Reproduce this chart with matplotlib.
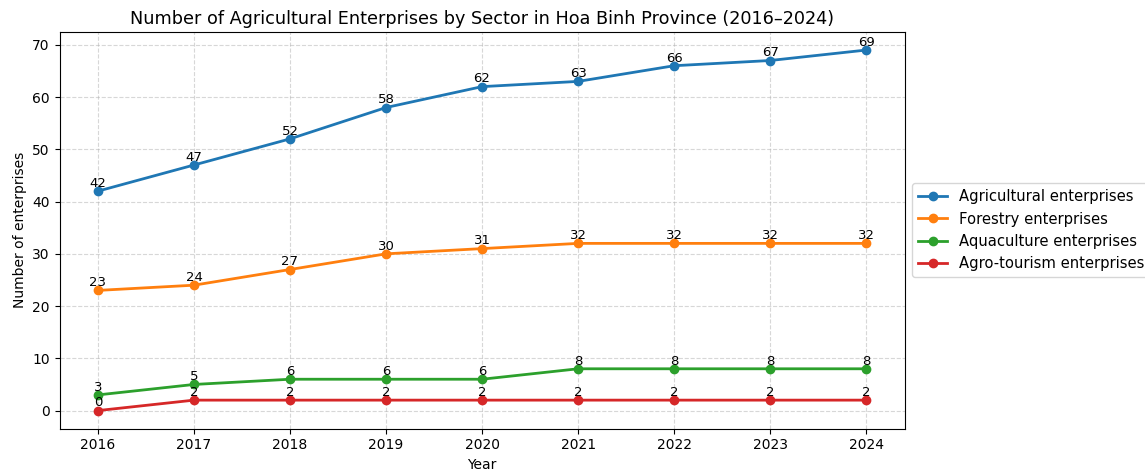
import matplotlib.pyplot as plt

years = [2016, 2017, 2018, 2019, 2020, 2021, 2022, 2023, 2024]
agri = [42, 47, 52, 58, 62, 63, 66, 67, 69]
forestry = [23, 24, 27, 30, 31, 32, 32, 32, 32]
aqua = [3, 5, 6, 6, 6, 8, 8, 8, 8]
tourism = [0, 2, 2, 2, 2, 2, 2, 2, 2]

series = [
    ('Agricultural enterprises', agri),
    ('Forestry enterprises', forestry),
    ('Aquaculture enterprises', aqua),
    ('Agro-tourism enterprises', tourism),
]

fig, ax = plt.subplots(figsize=(11.45, 4.71), dpi=100)

for name, vals in series:
    ax.plot(years, vals, marker='o', linewidth=2, label=name)
    # value labels above each point
    for x, y in zip(years, vals):
        ax.annotate(str(y), (x, y), textcoords='offset points', xytext=(0, 3),
                    ha='center', fontsize=9.5)

ax.set_title('Number of Agricultural Enterprises by Sector in Hoa Binh Province (2016–2024)', fontsize=12.7)
ax.set_xlabel('Year')
ax.set_ylabel('Number of enterprises')
ax.set_xticks(years)
ax.grid(True, linestyle='--', alpha=0.5)
ax.legend(loc='center left', bbox_to_anchor=(1.0, 0.5), fontsize=10.6)

fig.subplots_adjust(left=0.052, right=0.79, top=0.932, bottom=0.09)
fig.savefig('out.png', dpi=100)
